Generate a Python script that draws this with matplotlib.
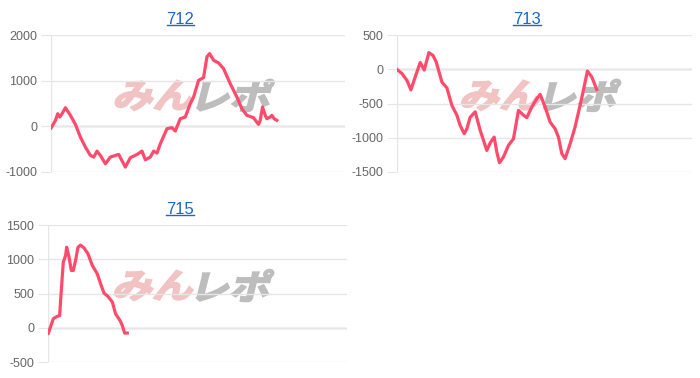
import matplotlib
matplotlib.use("Agg")
import matplotlib.pyplot as plt
import matplotlib.transforms as mtransforms
from matplotlib.lines import Line2D
from matplotlib.textpath import TextPath
from matplotlib.patches import PathPatch
from matplotlib.font_manager import FontProperties

plt.rcParams['font.family'] = ['Liberation Sans', 'DejaVu Sans']

# machine numbers
titles = ['712', '713', '715']

# x = games played, y = difference in coins
x_712 = [0, 118, 181, 236, 299, 390, 525, 661, 797, 933, 1069, 1160, 1250, 1341, 1477,
         1613, 1749, 1839, 2020, 2156, 2338, 2473, 2564, 2700, 2790, 2881, 2972, 3153,
         3289, 3379, 3515, 3651, 3787, 3878, 4014, 4149, 4240, 4312, 4421, 4557, 4693,
         4874, 5055, 5191, 5327, 5508, 5644, 5690, 5753, 5826, 5871, 5961, 6007, 6070, 6142]
y_712 = [-37, 132, 278, 205, 278, 410, 242, 44, -234, -454, -637, -673, -542, -637, -820,
         -673, -637, -615, -893, -688, -615, -542, -732, -673, -542, -586, -381, -51,
         -29, -102, 168, 205, 498, 644, 1010, 1069, 1523, 1596, 1450, 1391, 1266,
         937, 644, 388, 242, 190, 44, 132, 425, 242, 168, 205, 242, 168, 132]

x_713 = [0, 135, 271, 379, 496, 631, 740, 866, 974, 1064, 1218, 1353, 1488, 1624, 1714,
         1822, 1894, 1984, 2120, 2255, 2435, 2526, 2634, 2706, 2778, 2886, 3022, 3157,
         3292, 3428, 3518, 3653, 3788, 3879, 4014, 4149, 4285, 4375, 4465, 4555, 4690,
         4826, 4961, 5051, 5159, 5277, 5412]
y_713 = [0, -60, -160, -300, -110, 100, -10, 245, 205, 110, -185, -270, -525, -670, -820,
         -940, -870, -700, -620, -890, -1185, -1075, -990, -1210, -1365, -1280, -1110, -1015,
         -600, -670, -705, -550, -430, -365, -550, -770, -870, -990, -1230, -1305, -1090,
         -840, -525, -305, -25, -110, -295]

x_715 = [0, 62, 134, 241, 303, 348, 401, 464, 491, 553, 615, 669, 731, 794, 865, 954,
         1061, 1177, 1311, 1400, 1490, 1597, 1713, 1802, 1918, 1980, 2043, 2114]
y_715 = [-80, 20, 135, 170, 180, 550, 960, 1060, 1180, 1040, 840, 840, 990, 1180, 1210, 1170,
         1085, 915, 790, 645, 510, 460, 380, 205, 110, 35, -75, -75]

yticks_712 = [-1000, 0, 1000, 2000]
yticks_713 = [-1500, -1000, -500, 0, 500]
yticks_715 = [-500, 0, 500, 1000, 1500]

series = [(x_712, y_712, yticks_712), (x_713, y_713, yticks_713), (x_715, y_715, yticks_715)]
positions = [[0.073, 0.545, 0.420, 0.362],
             [0.567, 0.545, 0.422, 0.362],
             [0.069, 0.042, 0.427, 0.362]]

line_color = '#ff4a6b'
grid_color = '#e6e6e6'
logo_font = FontProperties(family='Noto Sans CJK JP', weight='bold')


def watermark(ax):
    # slanted "みんレポ" logo behind the line, built from text paths
    cx, cy = ax.transAxes.transform((0.49, 0.56))
    for txt, color, side in [('みん', '#f1c3c3', 'right'), ('レポ', '#bdbdbd', 'left')]:
        tp = TextPath((0, 0), txt, size=36, prop=logo_font)
        shape = mtransforms.Affine2D().scale(1.12, 0.95).skew_deg(14, 0)
        tp = shape.transform_path(tp)
        ext = tp.get_extents()
        dx = cx - ext.x1 - 2 if side == 'right' else cx - ext.x0 + 2
        dy = cy - (ext.y0 + ext.y1) / 2
        patch = PathPatch(tp, facecolor=color, edgecolor=color, lw=1.4,
                          transform=mtransforms.Affine2D().translate(dx, dy), zorder=1)
        ax.add_patch(patch)


fig = plt.figure(figsize=(7, 3.78), dpi=100)
title_texts = []
for (xs, ys, ticks), pos, name in zip(series, positions, titles):
    ax = fig.add_axes(pos)
    ax.set_xlim(0, 8000)
    ax.set_ylim(ticks[0], ticks[-1])
    ax.set_xticks([])
    ax.set_yticks(ticks)
    ax.set_yticklabels([str(t) for t in ticks])
    for s in ax.spines.values():
        s.set_visible(False)
    ax.grid(axis='y', color=grid_color, lw=1)
    ax.axhline(0, color='#c4c4c4', lw=1, zorder=1.5)
    ax.axvline(0, color=grid_color, lw=1)
    ax.tick_params(axis='y', length=7, color=grid_color, labelcolor='#666666',
                   labelsize=9, pad=3)

    watermark(ax)

    ax.plot(xs, ys, color=line_color, lw=2.3, zorder=3, solid_joinstyle='round')

    # title is centred over the whole chart box (labels included)
    t = ax.set_title(name, color='#1a66cc', fontsize=12, pad=8, x=0.44)
    title_texts.append(t)

# underline the titles like links
fig.canvas.draw()
W, H = fig.bbox.width, fig.bbox.height
for t in title_texts:
    bb = t.get_window_extent()
    y = (bb.y0 + 2.5) / H
    fig.add_artist(Line2D([bb.x0 / W, bb.x1 / W], [y, y], color='#1a66cc', lw=1,
                          transform=fig.transFigure))

fig.savefig('out.png', dpi=100)
